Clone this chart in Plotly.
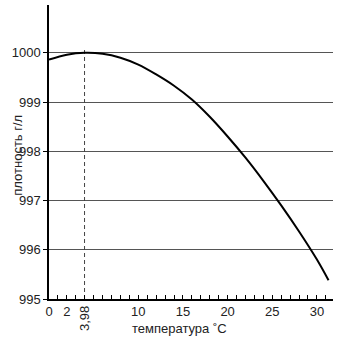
import plotly.graph_objects as go

# Data
temperature = [0, 2, 4, 6, 8, 10, 12, 14, 16, 18, 20, 22, 24, 26, 28, 30, 31.3]
density = [999.86, 999.96, 1000.0, 999.98, 999.90, 999.76, 999.56, 999.33, 999.05,
           998.70, 998.30, 997.87, 997.40, 996.90, 996.37, 995.80, 995.38]

x_tickvals = [0, 2, 10, 15, 20, 25, 30]
x_ticktext = ["0", "2", "10", "15", "20", "25", "30"]
y_tickvals = [995, 996, 997, 998, 999, 1000]
y_ticktext = ["995", "996", "997", "998", "999", "1000"]
max_temp = 3.98
max_temp_label = "3,98"

FONT = "Liberation Sans, Arial, sans-serif"

fig = go.Figure()

fig.add_trace(go.Scatter(
    x=[max_temp, max_temp], y=[995, 1000.06], mode="lines",
    line=dict(color="#444444", width=1, dash="4px,3px"),
    showlegend=False, hoverinfo="skip"))

fig.add_trace(go.Scatter(
    x=temperature, y=density, mode="lines", line_shape="spline",
    line=dict(color="black", width=2), showlegend=False))

fig.update_layout(
    width=346, height=338,
    margin=dict(l=49, r=13, t=5, b=39),
    paper_bgcolor="white", plot_bgcolor="white",
    font=dict(family=FONT, size=13, color="#222222"),
    xaxis=dict(
        range=[0, 31.8], tickmode="array", tickvals=x_tickvals, ticktext=x_ticktext,
        showgrid=False, zeroline=False, automargin=False,
        showline=True, linecolor="black", linewidth=1.5,
        ticks="inside", ticklen=4, tickcolor="black", tickwidth=1,
        minor=dict(tickmode="linear", tick0=0, dtick=1, ticks="inside", ticklen=4,
                   tickcolor="black", tickwidth=1, showgrid=False),
        tickfont=dict(size=13, family=FONT, color="#222222"),
    ),
    yaxis=dict(
        range=[995, 1000.97], tickmode="array", tickvals=y_tickvals, ticktext=y_ticktext,
        showgrid=True, gridcolor="#555555", gridwidth=1.3, zeroline=False, automargin=False,
        showline=True, linecolor="black", linewidth=1.5,
        ticks="outside", ticklen=4, tickcolor="black", tickwidth=1,
        tickfont=dict(size=13, family=FONT, color="#222222"),
    ),
    annotations=[
        dict(text="температура ˚C", x=0.46, xref="paper", y=-0.099, yref="paper",
             xanchor="center", yanchor="middle", showarrow=False,
             font=dict(size=13, family=FONT, color="#222222")),
        dict(text="плотность г/л", x=-0.11, xref="paper", y=0.49, yref="paper",
             xanchor="center", yanchor="middle", textangle=-90, showarrow=False,
             font=dict(size=13, family=FONT, color="#222222")),
        dict(text=max_temp_label, x=max_temp, xref="x", y=-0.017, yref="paper",
             xanchor="center", yanchor="top", textangle=-90, showarrow=False,
             font=dict(size=13, family=FONT, color="#222222")),
    ],
)

fig.write_html(
    "out.html",
    config={"displayModeBar": False},
    post_script="document.body.style.margin='0';document.body.style.overflow='hidden';",
)
